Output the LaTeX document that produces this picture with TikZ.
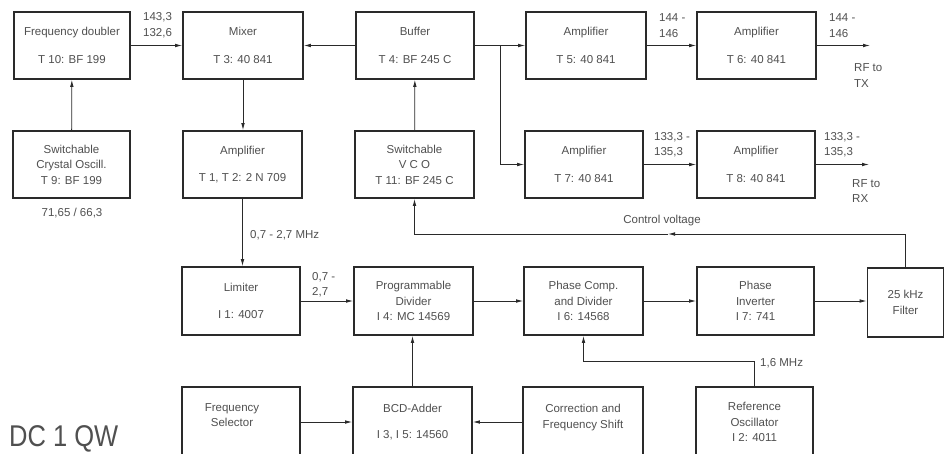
\documentclass[tikz,border=0pt]{standalone}
\usepackage{fontspec}
\setmainfont{Liberation Sans}
\usetikzlibrary{arrows.meta,calc}
\definecolor{ink}{HTML}{2A2A2A}
\definecolor{txt}{HTML}{505050}
\begin{document}
\begin{tikzpicture}[x=1pt,y=-1pt,
  box/.style={draw=ink,line width=1.7pt,minimum height=67pt,inner sep=0pt,align=center,text=txt,font=\fontsize{11.5}{15.5}\selectfont},
  txtonly/.style={inner sep=0pt,align=center,text=txt,font=\fontsize{11.5}{15.5}\selectfont},
  lbl/.style={text=txt,font=\fontsize{11.5}{15.5}\selectfont,inner sep=0pt,align=left},
  arr/.style={draw=ink,line width=0.8pt,-{Latex[length=7pt,width=3.6pt]}},
  ln/.style={draw=ink,line width=0.8pt}]
\useasboundingbox (0,0) rectangle (950,453);
\clip (0,0) rectangle (950,453);
\fill[white] (0,0) rectangle (950,453);

% Row 1
\node[box,minimum width=116pt] (dbl) at (72,45.5) {Frequency doubler\\[12pt]T 10: BF 199};
\node[box,minimum width=120pt] (mix) at (243,45.5) {Mixer\\[12pt]T 3: 40 841};
\node[box,minimum width=118pt] (buf) at (415,45.5) {Buffer\\[12pt]T 4: BF 245 C};
\node[box,minimum width=120pt] (a5) at (586,45.5) {Amplifier\\[12pt]T 5: 40 841};
\node[box,minimum width=119pt] (a6) at (756.5,45.5) {Amplifier\\[12pt]T 6: 40 841};
% Row 2
\node[box,minimum width=117pt] (xtal) at (71.5,164.5) {Switchable\\Crystal Oscill.\\T 9: BF 199};
\node[box,minimum width=119pt] (a12) at (242.5,164.5) {Amplifier\\[12pt]T 1, T 2: 2 N 709};
\node[box,minimum width=119pt] (vco) at (414.5,164.5) {Switchable\\V C O\\T 11: BF 245 C};
\node[box,minimum width=118pt] (a7) at (584,164.5) {Amplifier\\[12pt]T 7: 40 841};
\node[box,minimum width=118pt] (a8) at (756,164.5) {Amplifier\\[12pt]T 8: 40 841};
% Row 3
\node[box,minimum width=118pt,minimum height=68pt] (lim) at (241,301) {Limiter\\[12pt]I 1: 4007};
\node[box,minimum width=119pt,minimum height=68pt] (div) at (413.5,301) {Programmable\\Divider\\I 4: MC 14569};
\node[box,minimum width=119pt,minimum height=68pt] (pc) at (583.5,301) {Phase Comp.\\and Divider\\I 6: 14568};
\node[box,minimum width=117pt,minimum height=68pt] (pinv) at (755.5,301) {Phase\\Inverter\\I 7: 741};
\node[box,minimum width=76pt,minimum height=69pt] (filt) at (905.5,302.5) {25 kHz\\Filter};
% Row 4
\node[box,minimum width=118pt,minimum height=70pt] (fsel) at (241,422) {};
\node[txtonly] (fselt) at (232,415) {Frequency\\Selector};
\node[box,minimum width=119pt,minimum height=70pt] (bcd) at (412.5,422) {BCD-Adder\\[10pt]I 3, I 5: 14560};
\node[box,minimum width=120pt,minimum height=70pt] (corr) at (583,422) {};
\node[txtonly] (corrt) at (583,417.5) {Correction and\\Frequency Shift};
\node[box,minimum width=117pt,minimum height=70pt] (ref) at (754.5,422) {Reference\\Oscillator\\I 2: 4011};

% coordinates
\coordinate (br) at (500,45.5);
\coordinate (tx) at (870,45.5);
\coordinate (rx) at (869,164.5);
\coordinate (cvmid) at (668,234);
\coordinate (rc) at (754.5,361);

% connectors
\draw[arr] (dbl) -- (mix);
\draw[arr] (buf) -- (mix);
\draw[arr] (buf) -- (a5);
\draw[arr] (br) |- (a7.west);
\draw[arr] (a5) -- (a6);
\draw[arr] (a6.east) -- (tx);
\draw[arr] (a7) -- (a8);
\draw[arr] (a8.east) -- (rx);
\draw[arr] (xtal) -- (dbl);
\draw[arr] (mix.south) -- (mix.south |- a12.north);
\draw[arr] (a12.south) -- (a12.south |- lim.north);
\draw[arr] (vco) -- (buf);
\draw[arr] (filt.north) |- (cvmid);
\draw[arr] (cvmid) -| (vco.south);
\draw[arr] (lim) -- (lim -| div.west);
\draw[arr] (div) -- (div -| pc.west);
\draw[arr] (pc) -- (pc -| pinv.west);
\draw[arr] (pinv) -- (pinv -| filt.west);
\draw[arr] (bcd.north) -- (bcd.north |- div.south);
\draw[arr] (fsel) -- (bcd);
\draw[arr] (corr) -- (bcd);
\draw[ln] (ref.north) -- (rc);
\draw[arr] (rc) -| (pc.south);

% labels
\node[lbl,anchor=west] (l1) at (143,25) {143,3\\132,6};
\node[lbl,anchor=west] (l2) at (659,25.5) {144 -\\146};
\node[lbl,anchor=west] (l3) at (829,25.5) {144 -\\146};
\node[lbl,anchor=west] (l4) at (854,75.5) {RF to\\TX};
\node[lbl,anchor=west] (l5) at (654,144.5) {133,3 -\\135,3};
\node[lbl,anchor=west] (l6) at (824,144.5) {133,3 -\\135,3};
\node[lbl,anchor=west] (l7) at (852,191) {RF to\\RX};
\node[lbl] (l8) at (72,213) {71,65 / 66,3};
\node[lbl,anchor=west] (l9) at (250,235) {0,7 - 2,7 MHz};
\node[lbl] (l10) at (662,221) {Control voltage};
\node[lbl,anchor=west] (l11) at (312,284.5) {0,7 -\\2,7};
\node[lbl,anchor=west] (l12) at (760,363) {1,6 MHz};
\node[inner sep=0pt,anchor=west,text=txt,font=\fontsize{30}{30}\selectfont] (dc) at (9,439) {\scalebox{0.85}[1]{DC 1 QW}};
\end{tikzpicture}
\end{document}
